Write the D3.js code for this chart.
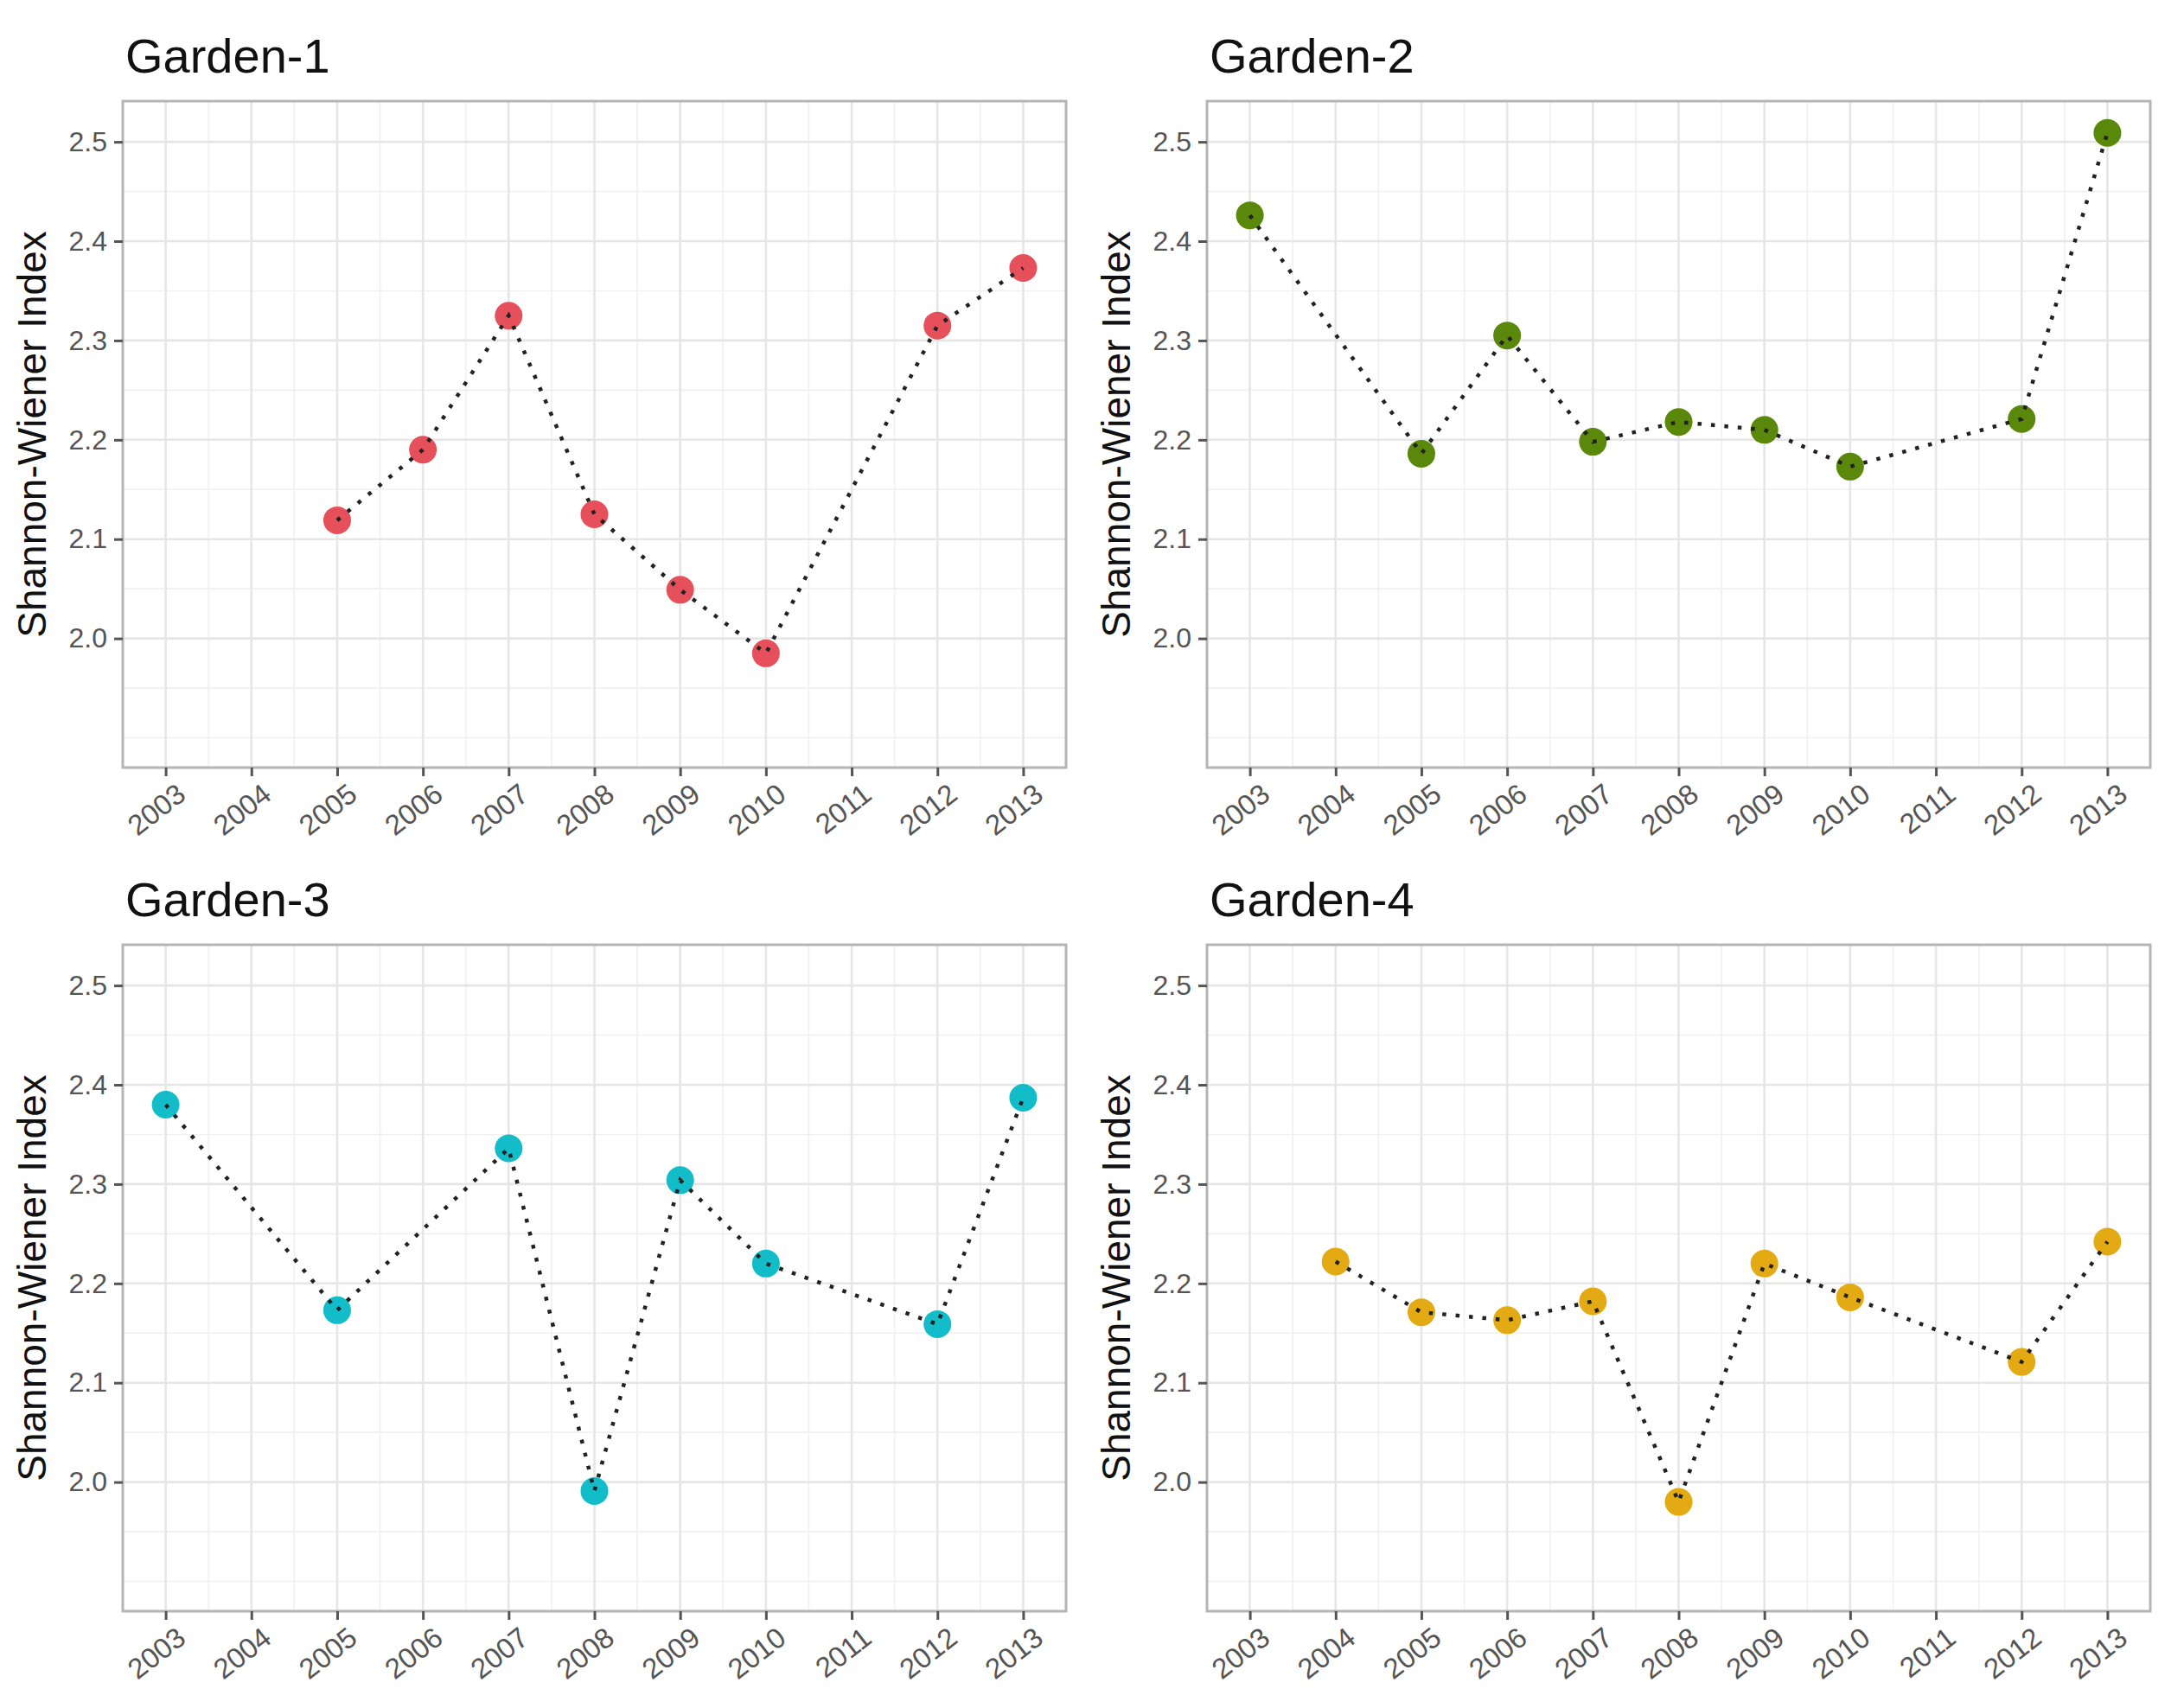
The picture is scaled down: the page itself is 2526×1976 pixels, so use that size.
<!DOCTYPE html>
<html>
<head>
<meta charset="utf-8">
<script src="https://cdn.jsdelivr.net/npm/d3@7"></script>
<style>
  html, body { margin: 0; padding: 0; background: #fff; }
  svg { display: block; }
  text { font-family: "Liberation Sans", Arial, sans-serif; }
</style>
</head>
<body>
<svg id="chart" width="2526" height="1976"></svg>
<script>
// values
var gardens = ["Garden-1", "Garden-2", "Garden-3", "Garden-4"];
var colors = ["#E5505A", "#5A880A", "#12BCC8", "#E3AA14"];

var years1 = [2005, 2006, 2007, 2008, 2009, 2010, 2012, 2013];
var index1 = [2.119, 2.190, 2.325, 2.125, 2.049, 1.985, 2.315, 2.373];

var years2 = [2003, 2005, 2006, 2007, 2008, 2009, 2010, 2012, 2013];
var index2 = [2.426, 2.186, 2.305, 2.198, 2.218, 2.210, 2.173, 2.221, 2.509];

var years3 = [2003, 2005, 2007, 2008, 2009, 2010, 2012, 2013];
var index3 = [2.380, 2.173, 2.336, 1.991, 2.304, 2.220, 2.159, 2.387];

var years4 = [2004, 2005, 2006, 2007, 2008, 2009, 2010, 2012, 2013];
var index4 = [2.222, 2.171, 2.163, 2.182, 1.980, 2.220, 2.186, 2.121, 2.242];

var yearTicks = [2003, 2004, 2005, 2006, 2007, 2008, 2009, 2010, 2011, 2012, 2013];
var yTicks = [2.0, 2.1, 2.2, 2.3, 2.4, 2.5];
var yMinor = [1.9, 1.95, 2.05, 2.15, 2.25, 2.35, 2.45];
var yTitle = "Shannon-Wiener Index";

var series = [
  { years: years1, vals: index1 },
  { years: years2, vals: index2 },
  { years: years3, vals: index3 },
  { years: years4, vals: index4 }
];

var svg = d3.select('#chart');

// panel boxes
var lefts = [142, 1396, 142, 1396];
var tops = [117, 117, 1093, 1093];
var pw = 1091, ph = 771;

function drawPanel(i) {
  var g = svg.append('g').attr('transform', 'translate(' + lefts[i] + ',' + tops[i] + ')');
  var x = d3.scaleLinear().domain([2002.5, 2013.5]).range([0, pw]);
  var y = d3.scaleLinear().domain([1.870, 2.541]).range([ph, 0]);

  g.append('rect').attr('width', pw).attr('height', ph).attr('fill', 'white');

  // minor grid
  var xMinor = yearTicks.slice(0, -1).map(function (d) { return d + 0.5; });
  g.selectAll('.xminor').data(xMinor).enter().append('line')
    .attr('x1', function (d) { return x(d); }).attr('x2', function (d) { return x(d); })
    .attr('y1', 0).attr('y2', ph)
    .attr('stroke', '#f0f0f0').attr('stroke-width', 1.6);
  g.selectAll('.yminor').data(yMinor).enter().append('line')
    .attr('x1', 0).attr('x2', pw)
    .attr('y1', function (d) { return y(d); }).attr('y2', function (d) { return y(d); })
    .attr('stroke', '#f0f0f0').attr('stroke-width', 1.6);
  // major grid
  g.selectAll('.xmajor').data(yearTicks).enter().append('line')
    .attr('x1', function (d) { return x(d); }).attr('x2', function (d) { return x(d); })
    .attr('y1', 0).attr('y2', ph)
    .attr('stroke', '#e6e6e6').attr('stroke-width', 2.6);
  g.selectAll('.ymajor').data(yTicks).enter().append('line')
    .attr('x1', 0).attr('x2', pw)
    .attr('y1', function (d) { return y(d); }).attr('y2', function (d) { return y(d); })
    .attr('stroke', '#e6e6e6').attr('stroke-width', 2.6);

  var s = series[i];
  var pts = s.years.map(function (d, k) { return { yr: d, v: s.vals[k] }; });

  g.selectAll('circle').data(pts).enter().append('circle')
    .attr('cx', function (d) { return x(d.yr); })
    .attr('cy', function (d) { return y(d.v); })
    .attr('r', 16)
    .attr('fill', colors[i]);

  var line = d3.line().x(function (d) { return x(d.yr); }).y(function (d) { return y(d.v); });
  g.append('path').datum(pts)
    .attr('d', line)
    .attr('fill', 'none')
    .attr('stroke', '#222')
    .attr('stroke-width', 4.5)
    .attr('stroke-dasharray', '4.5,11');

  // border
  g.append('rect').attr('width', pw).attr('height', ph)
    .attr('fill', 'none').attr('stroke', '#b5b5b5').attr('stroke-width', 3);

  // axes
  var yAxis = d3.axisLeft(y).tickValues(yTicks).tickSize(10).tickPadding(8)
    .tickFormat(d3.format('.1f'));
  var ya = g.append('g').call(yAxis);
  ya.select('.domain').remove();
  ya.selectAll('line').attr('stroke', '#555').attr('stroke-width', 3);
  ya.selectAll('text').attr('font-size', 32).attr('fill', '#555')
    .style('font-family', '"Liberation Sans", Arial, sans-serif');

  var xAxis = d3.axisBottom(x).tickValues(yearTicks).tickSize(10).tickFormat(d3.format('d'));
  var xa = g.append('g').attr('transform', 'translate(0,' + ph + ')').call(xAxis);
  xa.select('.domain').remove();
  xa.selectAll('line').attr('stroke', '#555').attr('stroke-width', 3);
  xa.selectAll('text')
    .attr('font-size', 33).attr('fill', '#555')
    .attr('y', 0).attr('dy', null)
    .attr('text-anchor', 'end')
    .attr('dominant-baseline', 'hanging')
    .attr('transform', 'translate(10,16) rotate(-38)')
    .style('font-family', '"Liberation Sans", Arial, sans-serif');

  // titles
  g.append('text').attr('x', 3).attr('y', -33)
    .attr('font-size', 56).attr('fill', '#111')
    .text(gardens[i]);
  g.append('text')
    .attr('transform', 'translate(-89,' + (ph / 2) + ') rotate(-90)')
    .attr('text-anchor', 'middle')
    .attr('font-size', 46).attr('fill', '#111')
    .text(yTitle);
}

for (var i = 0; i < 4; i++) drawPanel(i);
</script>
</body>
</html>
